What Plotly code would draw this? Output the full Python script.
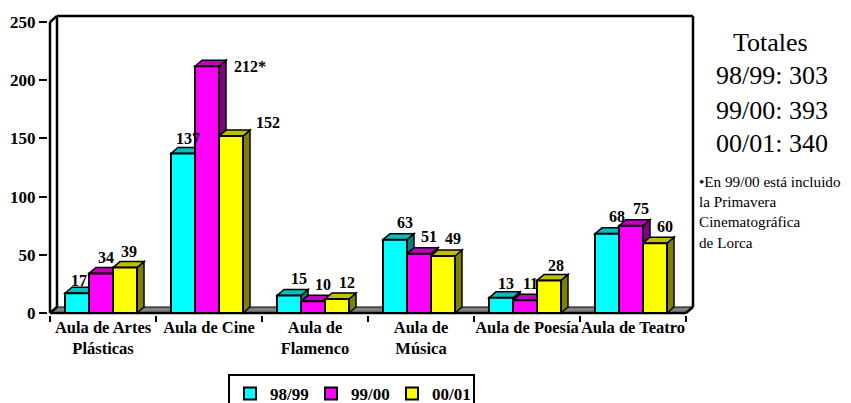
import plotly.graph_objects as go

# ---------------- data ----------------
categories = ["Aula de Artes<br>Plásticas", "Aula de Cine", "Aula de<br>Flamenco",
              "Aula de<br>Música", "Aula de Poesía", "Aula de Teatro"]
series_names = ["98/99", "99/00", "00/01"]
v_9899 = [17, 137, 15, 63, 13, 68]
v_9900 = [34, 212, 10, 51, 11, 75]
v_0001 = [39, 152, 12, 49, 28, 60]
labels_9899 = ["17", "137", "15", "63", "13", "68"]
labels_9900 = ["34", "212*", "10", "51", "11", "75"]
labels_0001 = ["39", "152", "12", "49", "28", "60"]
y_ticks = [0, 50, 100, 150, 200, 250]
totals_text = ["Totales", "98/99: 303", "99/00: 393", "00/01: 340"]
note_lines = ["•En 99/00 está incluido", "la Primavera", "Cinematográfica", "de Lorca"]

# ---------------- styling / geometry ----------------
PAGE_OFF = 8                      # default body margin of the html page
W, H = 851 - PAGE_OFF, 403 - PAGE_OFF
FONT = "Liberation Serif, serif"
front_cols = ["#00FFFF", "#FF00FF", "#FFFF00"]
top_cols = ["#00C0C0", "#C000C0", "#C0C000"]
side_cols = ["#008080", "#800080", "#808000"]

KX = 106.0            # px per category
KY = 291.0 / 250.0    # px per y unit
DX = 7 / KX           # depth offset (x)
DY = 6 / KY           # depth offset (y)
EX = 2 / KX
EY = 2 / KY
BW = 24 / KX
OFFS = [-38 / KX, -14 / KX, 10 / KX]
YMAX = 250

xr = [-0.5 - EX, len(categories) - 0.5 + DX + EX]
yr = [-EY, YMAX + DY + EY]
plot_w = (xr[1] - xr[0]) * KX
plot_h = (yr[1] - yr[0]) * KY
ML = 48 - PAGE_OFF                 # plot left at page px 48
PLOT_BOTTOM = 315 - PAGE_OFF       # plot bottom at page px 315
MB = H - PLOT_BOTTOM
MR = W - ML - plot_w
MT = H - MB - plot_h


def px2paper_x(px):
    return (px - PAGE_OFF - ML) / plot_w


def px2paper_y(py):
    return (PLOT_BOTTOM - (py - PAGE_OFF)) / plot_h


series_vals = [v_9899, v_9900, v_0001]
series_labels = [labels_9899, labels_9900, labels_0001]

fig = go.Figure()
for s, (name, vals) in enumerate(zip(series_names, series_vals)):
    fig.add_trace(go.Bar(
        x=categories, y=vals, name=name,
        width=BW, offset=OFFS[s],
        marker=dict(color=front_cols[s], line=dict(color="black", width=2)),
        hoverinfo="skip",
    ))

shapes = []
LW = 2.5
x_left, x_right = -0.5, len(categories) - 0.5
shapes.append(dict(type="path", layer="below", xref="x", yref="y",
                   path=f"M {x_left},0 L {x_right},0 L {x_right + DX},{DY} L {x_left + DX},{DY} Z",
                   fillcolor="#808080", line=dict(color="black", width=1)))
wall_lines = [
    ((x_left + DX, YMAX + DY), (x_right + DX, YMAX + DY)),
    ((x_right + DX, YMAX + DY), (x_right + DX, DY)),
    ((x_left + DX, YMAX + DY), (x_left + DX, DY)),
    ((x_left, YMAX), (x_left + DX, YMAX + DY)),
    ((x_left, 0), (x_left, YMAX)),
    ((x_left, 0), (x_right, 0)),
    ((x_right, 0), (x_right + DX, DY)),
    ((x_left, 0), (x_left + DX, DY)),
]
for (a, b) in wall_lines:
    shapes.append(dict(type="line", layer="below", xref="x", yref="y",
                       x0=a[0], y0=a[1], x1=b[0], y1=b[1],
                       line=dict(color="black", width=LW)))

for s, vals in enumerate(series_vals):
    for c, v in enumerate(vals):
        x0 = c + OFFS[s]
        x1 = x0 + BW
        shapes.append(dict(type="path", layer="below", xref="x", yref="y",
                           path=f"M {x1},0 L {x1 + DX},{DY} L {x1 + DX},{v + DY} L {x1},{v} Z",
                           fillcolor=side_cols[s], line=dict(color="black", width=1.5)))
        shapes.append(dict(type="path", layer="below", xref="x", yref="y",
                           path=f"M {x0},{v} L {x0 + DX},{v + DY} L {x1 + DX},{v + DY} L {x1},{v} Z",
                           fillcolor=top_cols[s], line=dict(color="black", width=1.5)))

annotations = []
# label pixel shifts (x, y) relative to the top-centre of each bar's front face
special_shift = {(0, 0): (2, 13), (0, 1): (5, 16), (0, 2): (4, 16),
                 (1, 0): (5, 15.5), (1, 1): (43, 0), (1, 2): (37, 13.5),
                 (4, 0): (4.5, 14), (4, 1): (5.5, 16.5), (4, 2): (6.5, 15)}
for s, (vals, labs) in enumerate(zip(series_vals, series_labels)):
    for c, (v, t) in enumerate(zip(vals, labs)):
        xs, ys = special_shift.get((c, s), (10, 17))
        annotations.append(dict(
            x=c + OFFS[s] + BW / 2, y=v, xref="x", yref="y", text=t,
            showarrow=False, xanchor="center", yanchor="middle",
            xshift=xs, yshift=ys,
            font=dict(family=FONT, size=16, color="black", weight="bold")))

tot_pos = [(771, 43), (772, 76), (772, 111), (772, 144)]
for t, (px, py) in zip(totals_text, tot_pos):
    annotations.append(dict(
        x=px2paper_x(px), y=px2paper_y(py), xref="paper", yref="paper",
        text=t, showarrow=False, xanchor="center", yanchor="middle",
        font=dict(family=FONT, size=26, color="black")))

note_y = [182, 202, 222, 242]
for t, py in zip(note_lines, note_y):
    annotations.append(dict(
        x=px2paper_x(697), y=px2paper_y(py), xref="paper", yref="paper",
        text=t, showarrow=False, xanchor="left", yanchor="middle",
        font=dict(family=FONT, size=15.2, color="black")))

fig.update_layout(
    width=W, height=H,
    margin=dict(l=ML, r=MR, t=MT, b=MB, pad=0, autoexpand=False),
    paper_bgcolor="white", plot_bgcolor="white",
    barmode="overlay",
    showlegend=True,
    legend=dict(orientation="h", x=px2paper_x(228), y=px2paper_y(374),
                xanchor="left", yanchor="top",
                bordercolor="black", borderwidth=2, bgcolor="white",
                font=dict(family=FONT, size=17, color="black", weight="bold"),
                traceorder="normal", itemwidth=30, entrywidth=36),
    shapes=shapes,
    annotations=annotations,
    xaxis=dict(type="category", range=xr, tickson="boundaries", tickangle=0,
               ticks="outside", ticklen=6, tickwidth=2, tickcolor="black",
               showgrid=False, zeroline=False, showline=False,
               tickfont=dict(family=FONT, size=16.5, color="black", weight="bold")),
    yaxis=dict(range=yr, tickvals=y_ticks, ticks="outside", ticklen=8,
               tickwidth=2, tickcolor="black",
               showgrid=False, zeroline=False, showline=False,
               tickfont=dict(family=FONT, size=17, color="black", weight="bold")),
)

fig.write_html("out.html")
